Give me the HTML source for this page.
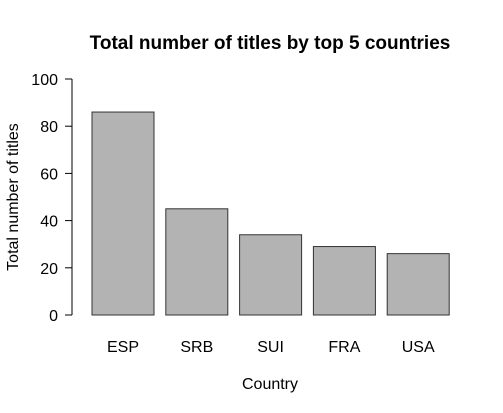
<!DOCTYPE html>
<html>
<head>
<meta charset="utf-8">
<style>
  html,body{margin:0;padding:0;background:#fff;}
  svg{display:block;font-family:"Liberation Sans",Arial,sans-serif;}
</style>
</head>
<body>
<svg id="chart" width="503" height="413" viewBox="0 0 503 413">
  <text x="270" y="49" text-anchor="middle" font-size="19" font-weight="bold" fill="#000">Total number of titles by top 5 countries</text>
  <text x="270" y="389" text-anchor="middle" font-size="16" fill="#000">Country</text>
  <text transform="translate(18,197) rotate(-90)" text-anchor="middle" font-size="16" fill="#000">Total number of titles</text>
  <g id="bars"></g>
  <g id="yaxis"></g>
  <g id="xlabels"></g>
</svg>
<script>
const categories = ["ESP","SRB","SUI","FRA","USA"];
const values = [86,45,34,29,26];
const yTicks = [0,20,40,60,80,100];

const NS="http://www.w3.org/2000/svg";
const y0=315, y100=79;
function yScale(v){return y0-(v/100)*(y0-y100);}
function xLeft(i){return 92+i*73.8;}
const bw=62;

const bars=document.getElementById('bars');
categories.forEach((c,i)=>{
  const r=document.createElementNS(NS,'rect');
  r.setAttribute('x',xLeft(i));
  r.setAttribute('y',yScale(values[i]));
  r.setAttribute('width',bw);
  r.setAttribute('height',y0-yScale(values[i]));
  r.setAttribute('fill','#b3b3b3');
  r.setAttribute('stroke','#333');
  r.setAttribute('stroke-width','1');
  
  
  bars.appendChild(r);
  const t=document.createElementNS(NS,'text');
  t.setAttribute('x',xLeft(i)+bw/2);
  t.setAttribute('y',352);
  t.setAttribute('text-anchor','middle');
  t.setAttribute('font-size','16');
  t.textContent=c;
  
  
  document.getElementById('xlabels').appendChild(t);
});

const ya=document.getElementById('yaxis');
const axisLine=document.createElementNS(NS,'line');
axisLine.setAttribute('x1',72);axisLine.setAttribute('x2',72);
axisLine.setAttribute('y1',yScale(0));axisLine.setAttribute('y2',yScale(100));
axisLine.setAttribute('stroke','#000');


ya.appendChild(axisLine);
yTicks.forEach(v=>{
  const l=document.createElementNS(NS,'line');
  l.setAttribute('x1',65);l.setAttribute('x2',72);
  l.setAttribute('y1',yScale(v));l.setAttribute('y2',yScale(v));
  l.setAttribute('stroke','#000');
  
  
  ya.appendChild(l);
  const t=document.createElementNS(NS,'text');
  t.setAttribute('x',58);
  t.setAttribute('y',yScale(v)+6);
  t.setAttribute('text-anchor','end');
  t.setAttribute('font-size','16');
  t.textContent=v;
  
  
  ya.appendChild(t);
});
</script>
</body>
</html>
